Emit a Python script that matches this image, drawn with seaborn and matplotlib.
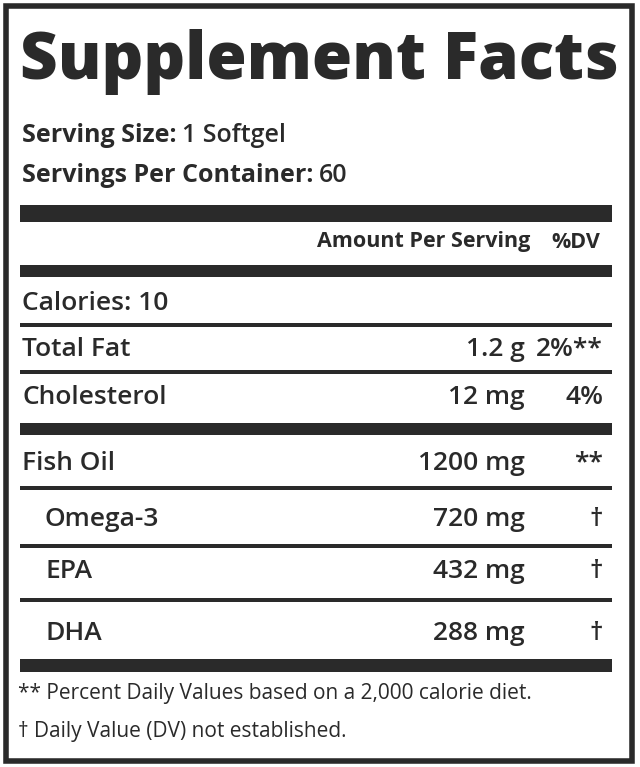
import matplotlib.pyplot as plt
import seaborn as sns
from matplotlib.patches import Rectangle

sns.set_style("white")
plt.rcParams['font.family'] = ['Open Sans', 'DejaVu Sans']

title = "Supplement Facts"
serving_size = "1 Softgel"
servings_per_container = "60"
calories = "10"

nutrients = ["Total Fat", "Cholesterol", "Fish Oil", "Omega-3", "EPA", "DHA"]
amounts = ["1.2 g", "12 mg", "1200 mg", "720 mg", "432 mg", "288 mg"]
daily_values = ["2%**", "4%", "**", "\u2020", "\u2020", "\u2020"]
indented = [False, False, False, True, True, True]
row_y = [350, 397, 463, 520, 572, 633]

footnotes = ["** Percent Daily Values based on a 2,000 calorie diet.",
             "\u2020 Daily Value (DV) not established."]

fig = plt.figure(figsize=(6.4, 7.67), dpi=100)
ax = fig.add_axes([0, 0, 1, 1])
ax.set_xlim(0, 640)
ax.set_ylim(767, 0)
ax.axis('off')
renderer = fig.canvas.get_renderer()

fg = '#2a2a2a'
ax.add_patch(Rectangle((6, 6), 626, 755, fill=False, lw=4, ec=fg))

def bar(y0, y1):
    ax.add_patch(Rectangle((20, y0), 592, y1 - y0, color=fg, lw=0))

def label_value(y, bold_part, rest, size=18):
    t = ax.text(22, y, bold_part, fontsize=size, fontweight='bold', color=fg, va='center')
    bb = t.get_window_extent(renderer)
    x_end = ax.transData.inverted().transform((bb.x1, 0))[0]
    ax.text(x_end + 5, y, rest, fontsize=size, fontweight='semibold', color=fg, va='center')

ax.text(20, 62, title, fontsize=47, fontweight='heavy', color=fg, va='center', ha='left')

label_value(135, "Serving Size:", serving_size)
label_value(175, "Servings Per Container:", servings_per_container)

bar(205, 222)
ax.text(530, 242, "Amount Per Serving", fontsize=15.5, fontweight='bold', color=fg, va='center', ha='right')
ax.text(600, 242, "%DV", fontsize=15.5, fontweight='bold', color=fg, va='center', ha='right')
bar(265, 277)

ax.text(22, 303, "Calories: " + calories, fontsize=19, fontweight='semibold', color=fg, va='center')
bar(323, 327)

separators = [(370, 374), (423, 435), (486, 490), (544, 548), (598, 602)]
for y0, y1 in separators:
    bar(y0, y1)

for name, amt, dv, ind, y in zip(nutrients, amounts, daily_values, indented, row_y):
    ax.text(45 if ind else 22, y, name, fontsize=19, fontweight='semibold', color=fg, va='center')
    ax.text(525, y, amt, fontsize=19, fontweight='semibold', color=fg, va='center', ha='right')
    ax.text(603, y, dv, fontsize=19, fontweight='semibold', color=fg, va='center', ha='right')

bar(659, 672)

ax.text(18, 693, footnotes[0], fontsize=15, color=fg, va='center')
ax.text(18, 732, footnotes[1], fontsize=15, color=fg, va='center')

fig.savefig('out.png', dpi=100)
